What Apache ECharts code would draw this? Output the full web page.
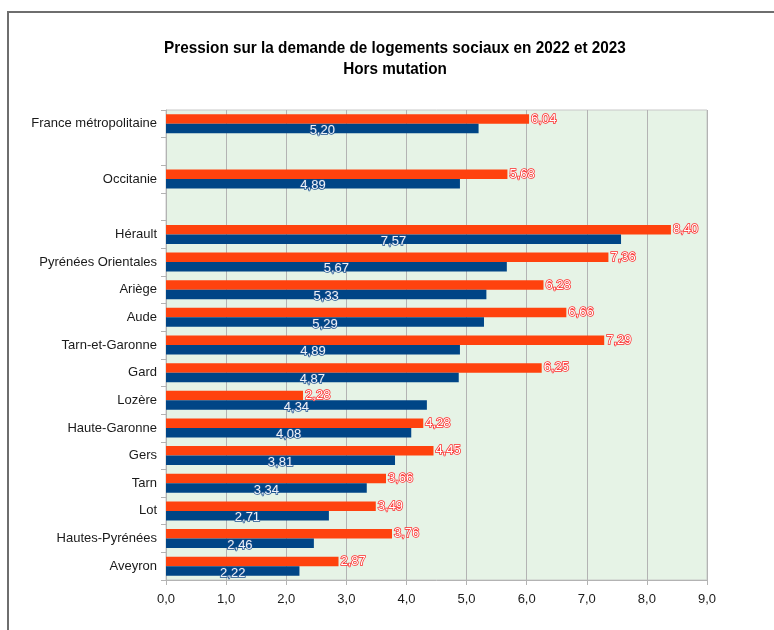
<!DOCTYPE html>
<html>
<head>
<meta charset="utf-8">
<script src="https://cdn.jsdelivr.net/npm/echarts@6/dist/echarts.min.js"></script>
<style>
html,body{margin:0;padding:0;background:#fff;}
#chart{width:774px;height:630px;}
</style>
</head>
<body>
<div id="chart"></div>
<script>
// Territories, top to bottom; blank entries leave an empty row
const categories = ['France métropolitaine', ' ', 'Occitanie', '  ', 'Hérault', 'Pyrénées Orientales', 'Ariège', 'Aude',
  'Tarn-et-Garonne', 'Gard', 'Lozère', 'Haute-Garonne', 'Gers', 'Tarn', 'Lot', 'Hautes-Pyrénées', 'Aveyron'];
const values2022 = [5.20, null, 4.89, null, 7.57, 5.67, 5.33, 5.29, 4.89, 4.87, 4.34, 4.08, 3.81, 3.34, 2.71, 2.46, 2.22];
const values2023 = [6.04, null, 5.68, null, 8.40, 7.36, 6.28, 6.66, 7.29, 6.25, 2.28, 4.28, 4.45, 3.66, 3.49, 3.76, 2.87];
const xTicks = [0, 1, 2, 3, 4, 5, 6, 7, 8, 9];
const titleLines = ['Pression sur la demande de logements sociaux en 2022 et 2023', 'Hors mutation'];

const fr = (v, d) => v.toFixed(d).replace('.', ',');

// condensed bold title text
const titleGraphics = titleLines.map((t, i) => ({
  type: 'text', x: 395, y: 48 + i * 21, scaleX: 0.9, silent: true,
  style: { text: t, fill: '#000', font: 'bold 17px "Liberation Sans"', align: 'center', verticalAlign: 'middle' }
}));

const chart = echarts.init(document.getElementById('chart'));
chart.setOption({
  animation: false,
  graphic: [{
    type: 'polyline',
    shape: { points: [[8, 630], [8, 12], [774, 12]] },
    style: { stroke: '#6e6e6e', lineWidth: 2, fill: null },
    silent: true
  }].concat(titleGraphics),
  grid: { left: 166, right: 67, top: 110, bottom: 50, show: true, backgroundColor: '#e6f3e6', borderColor: '#c8c8c8', borderWidth: 1 },
  xAxis: {
    type: 'value', min: xTicks[0], max: xTicks[xTicks.length - 1], interval: 1,
    axisLine: { show: true, lineStyle: { color: '#b3b3b3' } },
    axisTick: { show: true, length: 5, lineStyle: { color: '#b3b3b3' } },
    splitLine: { show: true, lineStyle: { color: '#b3b3b3', width: 1 } },
    axisLabel: { formatter: v => fr(v, 1), fontFamily: 'Liberation Sans', fontSize: 13, color: '#1a1a1a', margin: 13 }
  },
  yAxis: {
    type: 'category', data: categories, inverse: true,
    axisLine: { show: true, lineStyle: { color: '#b3b3b3' } },
    axisTick: { show: true, length: 5, lineStyle: { color: '#b3b3b3' } },
    axisLabel: { fontFamily: 'Liberation Sans', fontSize: 13, color: '#1a1a1a', margin: 9 }
  },
  series: [
    {
      name: '2023', type: 'bar', data: values2023, barWidth: 9.5, barGap: '0%',
      itemStyle: { color: '#ff420e' },
      label: {
        show: true, position: 'right', distance: 2,
        formatter: p => fr(p.value, 2),
        fontFamily: 'Liberation Sans', fontSize: 13, color: '#fff',
        textBorderColor: '#ff2a2a', textBorderWidth: 1.5
      }
    },
    {
      name: '2022', type: 'bar', data: values2022, barWidth: 9.5, barGap: '0%',
      itemStyle: { color: '#004586' },
      label: {
        show: true, position: 'inside', offset: [0, 2],
        formatter: p => fr(p.value, 2),
        fontFamily: 'Liberation Sans', fontSize: 13, color: '#eef3fa',
        textBorderColor: '#1b4f8c', textBorderWidth: 1.5
      }
    }
  ]
});
</script>
</body>
</html>
